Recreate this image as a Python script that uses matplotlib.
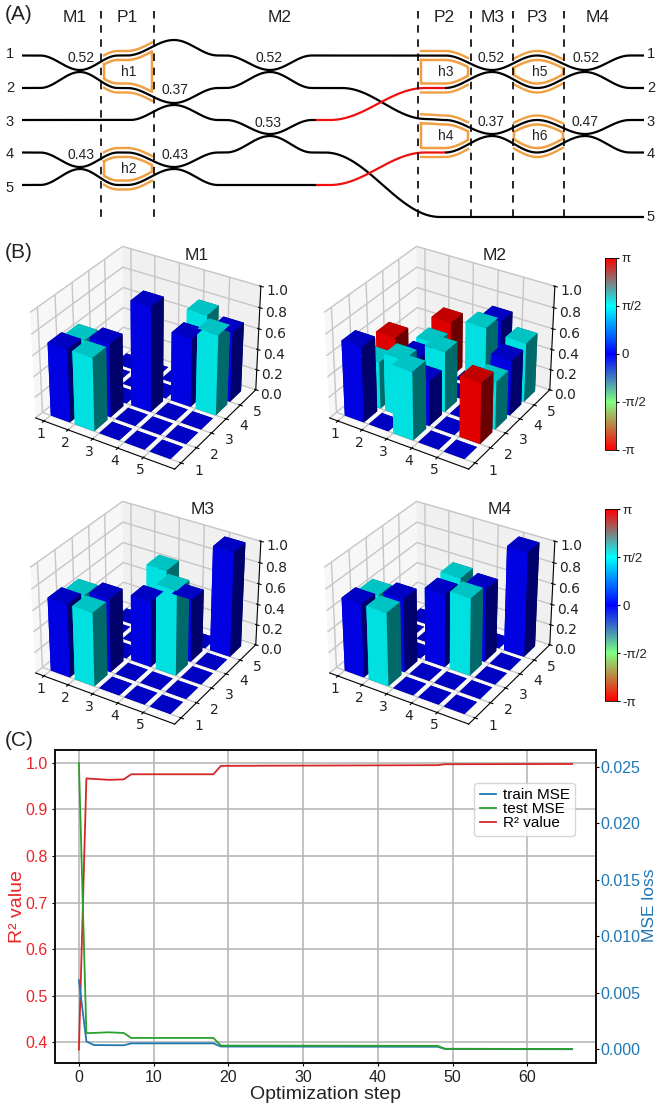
import numpy as np
import matplotlib
matplotlib.use("Agg")
import matplotlib.pyplot as plt
from matplotlib.colors import LinearSegmentedColormap, Normalize
from matplotlib.cm import ScalarMappable
from mpl_toolkits.mplot3d import Axes3D  # noqa

W, H = 656, 1111
SANS = ['Liberation Sans', 'DejaVu Sans']
plt.rcParams['grid.color'] = '#c6c6c6'
plt.rcParams['grid.linewidth'] = 1.0

# ---------- Panel A data (pixel space of the schematic) ----------
wg_knots = {
    'a': [(22, 55.5), (40, 55.5), (80, 70), (118, 55.5), (127, 55.5), (174, 40), (218, 55.5), (226, 55.5), (270, 70),
          (312, 55.5), (445, 55.5), (492, 70), (537, 55.5), (585, 70), (630, 55.5), (644, 55.5)],
    'b': [(22, 88), (40, 88), (80, 72), (118, 88), (127, 88), (174, 103), (218, 88), (226, 88), (270, 72),
          (312, 88), (342, 88), (426, 119), (445, 120), (492, 134), (537, 120), (585, 134), (630, 120), (644, 120)],
    'c': [(22, 120), (130, 120), (174, 105), (218, 120), (226, 120), (270, 134), (312, 120), (316, 120)],
    'c2': [(445, 88), (492, 72), (537, 88), (585, 72), (630, 88), (644, 88)],
    'd': [(22, 152.5), (40, 152.5), (80, 167), (118, 152.5), (127, 152.5), (174, 167), (218, 152.5), (226, 152.5), (270, 136),
          (312, 152.5), (325, 152.5), (440, 217), (644, 217)],
    'e': [(22, 185), (40, 185), (80, 169), (118, 185), (127, 185), (174, 169), (218, 185), (316, 185)],
    'e2': [(445, 152.5), (492, 136), (537, 152.5), (585, 136), (630, 152.5), (644, 152.5)],
}
red_knots = [[(316, 120), (330, 120), (425, 88), (445, 88)], [(316, 185), (330, 185), (425, 152.5), (445, 152.5)]]
phase_dividers = [101, 154, 418, 471, 513, 564]
section_labels = [('M1', 75), ('P1', 127), ('M2', 280), ('P2', 444), ('M3', 493), ('P3', 537), ('M4', 598)]
left_ports = [('1', 54), ('2', 88), ('3', 122), ('4', 154), ('5', 188)]
right_ports = [('1', 54), ('2', 88), ('3', 122), ('4', 154), ('5', 217)]
coupler_values = [('0.52', 81, 58), ('0.43', 81, 155), ('0.37', 175, 90), ('0.43', 175, 155), ('0.52', 269, 58),
                  ('0.53', 268, 123), ('0.52', 491, 58), ('0.37', 491, 122), ('0.52', 586, 58), ('0.47', 585, 122)]
# name, x-start, x-end, upper guide, lower guide
heaters = [('h1', 104, 152, 'a', 'b'), ('h2', 104, 152, 'd', 'e'),
           ('h3', 421, 468, 'a', 'c2'), ('h4', 421, 468, 'b', 'e2'),
           ('h5', 514, 563, 'a', 'c2'), ('h6', 514, 563, 'b', 'e2')]

# ---------- Panel B data ----------
labels_5 = ['1', '2', '3', '4', '5']
M1_amp = [[.70, .66, 0, 0, 0],
          [.70, .70, 0, 0, 0],
          [0, 0, 1.0, 0, 0],
          [0, 0, 0, .66, .76],
          [0, 0, 0, .77, .67]]
M1_phase = [[0, 1.57, 0, 0, 0],
            [1.57, 0, 0, 0, 0],
            [0, 0, 0, 0, 0],
            [0, 0, 0, 0, 1.57],
            [0, 0, 0, 1.57, 0]]
M2_amp = [[.72, .45, .56, 0, 0],
          [0, .55, .45, .46, .54],
          [.65, .43, .58, 0, 0],
          [0, 0, 0, .76, .70],
          [0, .58, .46, .53, .57]]
M2_phase = [[0, 1.57, -3.14, 0, 0],
            [0, 1.57, 0, 1.57, 3.14],
            [1.57, 0, 1.57, 0, 0],
            [0, 0, 0, 1.57, 0],
            [0, 3.14, 1.57, 0, 1.57]]
M3_amp = [[.70, .66, 0, 0, 0],
          [.70, .70, 0, 0, 0],
          [0, 0, .63, .80, 0],
          [0, 0, .81, .60, 0],
          [0, 0, 0, 0, 1.0]]
M3_phase = [[0, 1.57, 0, 0, 0],
            [1.57, 0, 0, 0, 0],
            [0, 0, 0, 1.57, 0],
            [0, 0, 1.57, 0, 0],
            [0, 0, 0, 0, 0]]
M4_amp = [[.70, .66, 0, 0, 0],
          [.70, .70, 0, 0, 0],
          [0, 0, .70, .73, 0],
          [0, 0, .74, .70, 0],
          [0, 0, 0, 0, 1.0]]
M4_phase = M3_phase
# name, amplitudes, phases, axes left, axes top, title x, title y
panels = [('M1', M1_amp, M1_phase, 17, 229, 197, 255), ('M2', M2_amp, M2_phase, 311, 229, 495, 256),
          ('M3', M3_amp, M3_phase, 17, 484, 203, 510), ('M4', M4_amp, M4_phase, 311, 484, 500, 510)]
colorbars = [(605, 258, 11, 192), (605, 509, 12, 192)]
phase_ticks = [-np.pi, -np.pi / 2, 0, np.pi / 2, np.pi]
phase_labels = ['-π', '-π/2', '0', 'π/2', 'π']

# ---------- Panel C data ----------
steps_train = [0, 1, 2, 6, 7, 18, 19, 48, 49, 66]
train_mse = [.0061, .00068, .00035, .00033, .00050, .00050, .00022, .00020, .00000, -.00002]
steps_test = [0, 1, 4, 6, 7, 18, 19, 48, 49, 66]
test_mse = [.02535, .00140, .00148, .00142, .00098, .00098, .00030, .00028, .00002, .00000]
steps_r2 = [0, 1, 4, 6, 7, 18, 19, 48, 49, 66]
r2_value = [.385, .966, .963, .964, .975, .975, .993, .9945, .9965, .997]


def phase_cmap():
    cdict = {'blue': ((0.00, 0.0, 0.0), (0.50, 1.0, 1.0), (0.75, 1.0, 1.0), (1.00, 0.0, 0.0)),
             'green': ((0.00, 0.0, 0.0), (0.25, 1.0, 1.0), (0.50, 0.0, 0.0), (0.75, 1.0, 1.0), (1.00, 0.0, 0.0)),
             'red': ((0.00, 1.0, 1.0), (0.25, 0.5, 0.5), (0.50, 0.0, 0.0), (0.75, 0.0, 0.0), (1.00, 1.0, 1.0))}
    return LinearSegmentedColormap('phase', cdict, 256)


CMAP = phase_cmap()
NORM = Normalize(-np.pi, np.pi)


def curve(knots):
    """Cosine-eased path through knots."""
    k = np.array(knots, float)
    xs, ys = [], []
    for (x0, y0), (x1, y1) in zip(k[:-1], k[1:]):
        t = np.linspace(0, 1, 40)
        xs.append(x0 + (x1 - x0) * t)
        ys.append(y0 + (y1 - y0) * (1 - np.cos(np.pi * t)) / 2)
    return np.concatenate(xs), np.concatenate(ys)


def y_of(name, x):
    px, py = curve(wg_knots[name])
    u, i = np.unique(px, return_index=True)
    return np.interp(x, u, py[i])


fig = plt.figure(figsize=(W / 100, H / 100), dpi=100, facecolor='white')

# Panel A + letters
sch = fig.add_axes([0, 0, 1, 1], zorder=5)
sch.set_xlim(0, W)
sch.set_ylim(H, 0)
sch.axis('off')
sch.patch.set_alpha(0)
ORANGE = '#f0a043'
for name, x0, x1, up, lo in heaters:
    x = np.linspace(x0, x1, 60)
    yu, yl = y_of(up, x), y_of(lo, x)
    sch.plot(np.r_[x, x[::-1], x[0]], np.r_[yu + 4.5, (yl - 4.5)[::-1], yu[0] + 4.5], color=ORANGE, lw=1.8,
             solid_joinstyle='round')
    sch.plot(x, yu - 4.5, color=ORANGE, lw=1.7)
    sch.plot(x, yl + 4.5, color=ORANGE, lw=1.7)
    sch.text((x0 + x1) / 2 + 1, (yu.mean() + yl.mean()) / 2, name, ha='center', va='center', fontsize=10, family=SANS, color='#222222')
for k in wg_knots.values():
    sch.plot(*curve(k), color='black', lw=1.6, solid_capstyle='butt')
for k in red_knots:
    sch.plot(*curve(k), color='#f01010', lw=1.6, solid_capstyle='butt')
for x in phase_dividers:
    sch.plot([x, x], [11, 218], color='black', lw=1.2, dashes=(4.5, 4))
for t, x in section_labels:
    sch.text(x, 17, t, ha='center', va='center', fontsize=12.5, family=SANS, color='#222222')
for t, y in left_ports:
    sch.text(10, y, t, ha='center', va='center', fontsize=10.5, family=SANS, color='#222222')
for t, y in right_ports:
    sch.text(651, y, t, ha='center', va='center', fontsize=10.5, family=SANS, color='#222222')
for t, x, y in coupler_values:
    sch.text(x, y, t, ha='center', va='center', fontsize=10, family=SANS, color='#222222')
for t, y in [('(A)', 15), ('(B)', 253), ('(C)', 740)]:
    sch.text(5, y, t, ha='left', va='center', fontsize=15, family=SANS, color='#222222')


def bars3d(amp, phase, x_px, y_px, size=254):
    a3 = fig.add_axes([x_px / W, 1 - (y_px + size) / H, size / W, size / H], projection='3d', zorder=2)
    a3.patch.set_alpha(0)
    amp = np.array(amp, float)
    phase = np.array(phase, float)
    xx, yy = np.meshgrid(np.arange(5), np.arange(5), indexing='ij')
    xx, yy = xx.ravel(), yy.ravel()
    cols = CMAP(NORM(phase.ravel()))
    a3.bar3d(xx + .1, yy + .1, np.zeros(25), .8, .8, np.maximum(amp.ravel(), 1e-4), color=cols, shade=True,
             edgecolor='none', zsort='max')
    a3.view_init(elev=31.5, azim=-58)
    a3.set_xlim(-.25, 5.3)
    a3.set_ylim(-.3, 5.25)
    a3.set_zlim(0, 1)
    a3.set_xticks(np.arange(5) + .1)
    a3.set_yticks(np.arange(5) + .1)
    a3.set_xticklabels(labels_5, fontsize=10, color='#222222')
    a3.set_yticklabels(labels_5, fontsize=10, color='#222222', va='bottom', ha='left')
    a3.set_zticks([0, .2, .4, .6, .8, 1])
    a3.set_zticklabels(['0.0', '0.2', '0.4', '0.6', '0.8', '1.0'], fontsize=10, color='#222222')
    a3.tick_params(axis='x', pad=-5)
    a3.tick_params(axis='y', pad=1)
    a3.tick_params(axis='z', pad=-1)
    a3.xaxis.set_pane_color('#f7f7f7')
    a3.yaxis.set_pane_color('#f0f0f0')
    a3.zaxis.set_pane_color('#fafafa')
    return a3


for t, amp, ph, xp, yp, tx, ty in panels:
    bars3d(amp, ph, xp, yp)
    sch.text(tx, ty, t, ha='center', va='center', fontsize=12.5, family=SANS, color='#222222')

for x, y, w, h in colorbars:
    cax = fig.add_axes([x / W, 1 - (y + h) / H, w / W, h / H], zorder=3)
    cb = fig.colorbar(ScalarMappable(norm=NORM, cmap=CMAP), cax=cax)
    cb.set_ticks(phase_ticks)
    cb.set_ticklabels(phase_labels, family=SANS, fontsize=9.5, color='#222222')
    cb.ax.tick_params(length=2, width=.8, pad=2)
    cb.outline.set_linewidth(.6)

# Panel C
RED, BLUE, GREEN = '#e8262a', '#1f77b4', '#2ca02c'
ax = fig.add_axes([55 / W, 1 - 1063 / H, (596 - 55) / W, (1063 - 750) / H], zorder=3)
ax2 = ax.twinx()
l3, = ax.plot(steps_r2, r2_value, color='#d62728', lw=1.3, label='R² value')
l1, = ax2.plot(steps_train, train_mse, color=BLUE, lw=1.3, label='train MSE')
l2, = ax2.plot(steps_test, test_mse, color=GREEN, lw=1.3, label='test MSE')
ax.set_xticks(range(0, 70, 10))
ax.set_yticks([.4, .5, .6, .7, .8, .9, 1.0])
ax.set_ylim(.356, 1.027)
ax.set_xlim(-3.2, 69.2)
ax2.set_yticks([0, .005, .01, .015, .02, .025])
ax2.set_yticklabels(['0.000', '0.005', '0.010', '0.015', '0.020', '0.025'])
ax2.set_ylim((1049 - 1063) / 11280, (1049 - 750) / 11280)
ax.grid(True, color='#b8b8b8', lw=1.2)
ax.set_axisbelow(True)
for a in (ax, ax2):
    for s in a.spines.values():
        s.set_linewidth(1.3)
        s.set_color('#111111')
ax.tick_params(axis='y', labelcolor=RED, labelsize=11.5, length=2, pad=3)
ax.tick_params(axis='x', labelcolor='#222222', labelsize=11.5, length=2, pad=3)
ax2.tick_params(axis='y', labelcolor=BLUE, labelsize=11.5, length=2, pad=1.5)
for lab in ax.get_xticklabels() + ax.get_yticklabels() + ax2.get_yticklabels():
    lab.set_family(SANS)
ax.set_xlabel('Optimization step', fontsize=14, family=SANS, color='#222222', labelpad=1)
sch.text(17, 907, 'R² value', rotation=90, ha='center', va='center', fontsize=14, family=SANS, color=RED)
sch.text(649, 905, 'MSE loss', rotation=90, ha='center', va='center', fontsize=12.5, family=SANS, color=BLUE)
ax2.legend(handles=[l1, l2, l3], loc='upper right', bbox_to_anchor=(.961, .895), prop={'family': SANS, 'size': 11},
           labelspacing=0, handlelength=1.1, borderpad=.35, handletextpad=.4, framealpha=.8, borderaxespad=0)

fig.savefig('out.png', dpi=100, facecolor='white')
